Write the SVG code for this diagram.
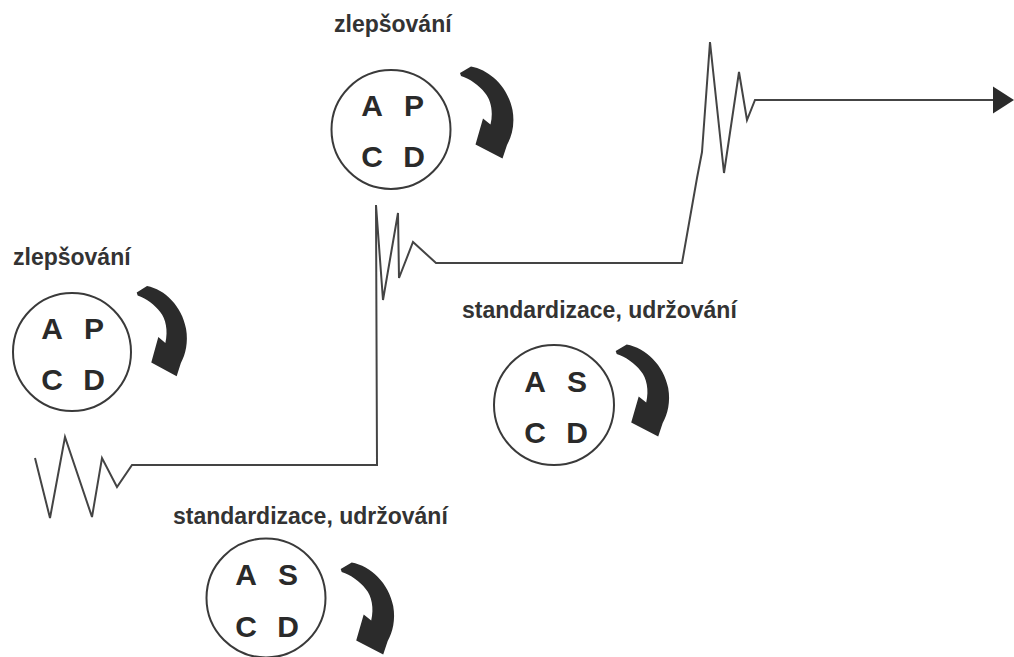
<svg xmlns="http://www.w3.org/2000/svg" xmlns:xlink="http://www.w3.org/1999/xlink" width="1014" height="657" viewBox="0 0 1014 657">
<style>
.lbl{font-family:"Liberation Sans",Arial,sans-serif;font-weight:bold;font-size:23px;fill:#333}
.let{font-family:"Liberation Sans",Arial,sans-serif;font-weight:bold;font-size:30px;fill:#2a2a2a;text-anchor:middle}
.ring{fill:#fff;stroke:#3a3a3a;stroke-width:2}
.line{fill:none;stroke:#444;stroke-width:2;stroke-linejoin:miter}
.curl{fill:#2b2b2b}
</style>
<defs>
<path id="curl" d="M5,13 L16,6.5 C35,10 53,27 57.5,50 C60,64 57,76 52,85 L47.5,98.5 L20.5,84.5 L28,58.5 L35.5,64.5 C38.5,52 36,40 30,33 C24,25 15,19 6,16 Z"/>
</defs>
<rect width="1014" height="657" fill="#fff"/>
<g id="connectors">
<polyline class="line" points="35,458 50,518 65,437 92,517 102,458 117,487 132,465 377,465 376,205 383,300 398,213 399,278 413,242 436,263 682,263 697,178 702,152 710,42 724,173 739,72 747,120 755,100 995,100"/>
<polygon points="993,86.5 1014,100 993,113.5" fill="#2b2b2b"/>
</g>
<g id="node-left">
<text class="lbl" x="13" y="265">zlepšování</text>
<circle class="ring" cx="72" cy="352" r="59"/>
<text class="let" x="52" y="338.5">A</text>
<text class="let" x="94" y="338.5">P</text>
<text class="let" x="52" y="389.5">C</text>
<text class="let" x="94" y="389.5">D</text>
<use xlink:href="#curl" class="curl" transform="translate(132,279.7) scale(0.94,0.98)"/>
</g>
<g id="node-top">
<text class="lbl" x="334" y="32">zlepšování</text>
<circle class="ring" cx="391" cy="129.5" r="59.5"/>
<text class="let" x="372" y="116">A</text>
<text class="let" x="414" y="116">P</text>
<text class="let" x="372" y="167">C</text>
<text class="let" x="414" y="167">D</text>
<use xlink:href="#curl" class="curl" transform="translate(455,60)"/>
</g>
<g id="node-bottom">
<text class="lbl" x="173" y="524">standardizace, udržování</text>
<circle class="ring" cx="266" cy="598" r="59.5"/>
<text class="let" x="246" y="585">A</text>
<text class="let" x="288" y="585">S</text>
<text class="let" x="246" y="636.5">C</text>
<text class="let" x="288" y="636.5">D</text>
<use xlink:href="#curl" class="curl" transform="translate(335.7,556)"/>
</g>
<g id="node-right">
<text class="lbl" x="462" y="318">standardizace, udržování</text>
<circle class="ring" cx="554" cy="405" r="60"/>
<text class="let" x="535" y="391.5">A</text>
<text class="let" x="577" y="391.5">S</text>
<text class="let" x="535" y="443">C</text>
<text class="let" x="577" y="443">D</text>
<use xlink:href="#curl" class="curl" transform="translate(610.7,338)"/>
</g>
</svg>
